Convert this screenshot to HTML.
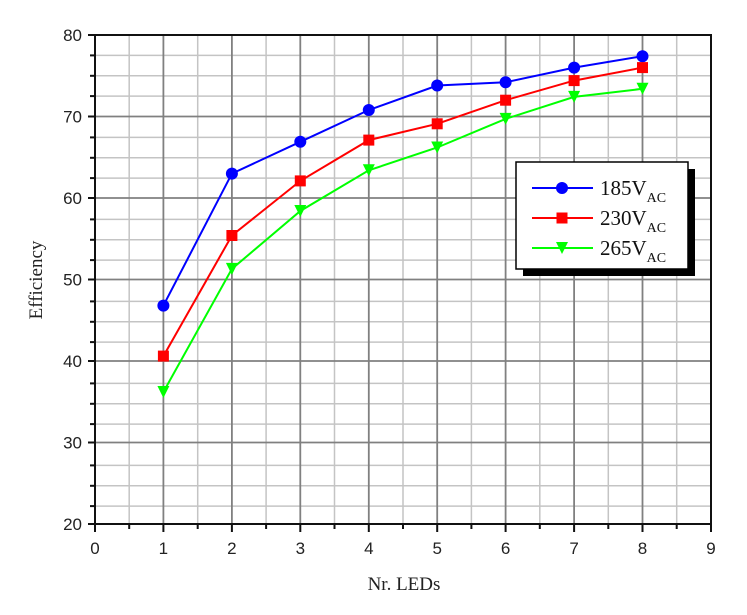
<!DOCTYPE html>
<html><head><meta charset="utf-8"><style>body{margin:0;background:#fff}svg{display:block}</style></head><body>
<svg width="747" height="615" xmlns="http://www.w3.org/2000/svg" font-family="Liberation Serif, serif">
<rect width="747" height="615" fill="#fff"/>
<g stroke="#c4c4c4" stroke-width="1.5">
<line x1="129.2" y1="35" x2="129.2" y2="524"/><line x1="197.7" y1="35" x2="197.7" y2="524"/><line x1="266.1" y1="35" x2="266.1" y2="524"/><line x1="334.5" y1="35" x2="334.5" y2="524"/><line x1="403" y1="35" x2="403" y2="524"/><line x1="471.4" y1="35" x2="471.4" y2="524"/><line x1="539.8" y1="35" x2="539.8" y2="524"/><line x1="608.3" y1="35" x2="608.3" y2="524"/><line x1="676.7" y1="35" x2="676.7" y2="524"/>
<line x1="95" y1="55.4" x2="711" y2="55.4"/><line x1="95" y1="75.8" x2="711" y2="75.8"/><line x1="95" y1="96.1" x2="711" y2="96.1"/>
<line x1="95" y1="137.4" x2="711" y2="137.4"/><line x1="95" y1="157.8" x2="711" y2="157.8"/><line x1="95" y1="178.1" x2="711" y2="178.1"/>
<line x1="95" y1="219.4" x2="711" y2="219.4"/><line x1="95" y1="239.8" x2="711" y2="239.8"/><line x1="95" y1="260.1" x2="711" y2="260.1"/>
<line x1="95" y1="301.4" x2="711" y2="301.4"/><line x1="95" y1="321.8" x2="711" y2="321.8"/><line x1="95" y1="342.1" x2="711" y2="342.1"/>
<line x1="95" y1="383.4" x2="711" y2="383.4"/><line x1="95" y1="403.8" x2="711" y2="403.8"/><line x1="95" y1="424.1" x2="711" y2="424.1"/>
<line x1="95" y1="465.4" x2="711" y2="465.4"/><line x1="95" y1="485.8" x2="711" y2="485.8"/><line x1="95" y1="506.1" x2="711" y2="506.1"/>
</g>
<g stroke="#808080" stroke-width="1.8">
<line x1="163.4" y1="35" x2="163.4" y2="524"/><line x1="231.9" y1="35" x2="231.9" y2="524"/><line x1="300.3" y1="35" x2="300.3" y2="524"/><line x1="368.8" y1="35" x2="368.8" y2="524"/><line x1="437.2" y1="35" x2="437.2" y2="524"/><line x1="505.6" y1="35" x2="505.6" y2="524"/><line x1="574.1" y1="35" x2="574.1" y2="524"/><line x1="642.5" y1="35" x2="642.5" y2="524"/>
<line x1="95" y1="116.5" x2="711" y2="116.5"/><line x1="95" y1="198" x2="711" y2="198"/><line x1="95" y1="279.5" x2="711" y2="279.5"/><line x1="95" y1="361" x2="711" y2="361"/><line x1="95" y1="442.5" x2="711" y2="442.5"/>
</g>
<rect x="95" y="35" width="616" height="489" fill="none" stroke="#111" stroke-width="2"/>
<g stroke="#111" stroke-width="2">
<line x1="88" y1="35" x2="95" y2="35"/><line x1="88" y1="116.5" x2="95" y2="116.5"/><line x1="88" y1="198" x2="95" y2="198"/><line x1="88" y1="279.5" x2="95" y2="279.5"/><line x1="88" y1="361" x2="95" y2="361"/><line x1="88" y1="442.5" x2="95" y2="442.5"/><line x1="88" y1="524" x2="95" y2="524"/>
<line x1="90" y1="55.4" x2="95" y2="55.4"/><line x1="90" y1="75.8" x2="95" y2="75.8"/><line x1="90" y1="96.1" x2="95" y2="96.1"/><line x1="90" y1="137.4" x2="95" y2="137.4"/><line x1="90" y1="157.8" x2="95" y2="157.8"/><line x1="90" y1="178.1" x2="95" y2="178.1"/><line x1="90" y1="219.4" x2="95" y2="219.4"/><line x1="90" y1="239.8" x2="95" y2="239.8"/><line x1="90" y1="260.1" x2="95" y2="260.1"/><line x1="90" y1="301.4" x2="95" y2="301.4"/><line x1="90" y1="321.8" x2="95" y2="321.8"/><line x1="90" y1="342.1" x2="95" y2="342.1"/><line x1="90" y1="383.4" x2="95" y2="383.4"/><line x1="90" y1="403.8" x2="95" y2="403.8"/><line x1="90" y1="424.1" x2="95" y2="424.1"/><line x1="90" y1="465.4" x2="95" y2="465.4"/><line x1="90" y1="485.8" x2="95" y2="485.8"/><line x1="90" y1="506.1" x2="95" y2="506.1"/>
<line x1="95" y1="524" x2="95" y2="532"/><line x1="163.4" y1="524" x2="163.4" y2="532"/><line x1="231.9" y1="524" x2="231.9" y2="532"/><line x1="300.3" y1="524" x2="300.3" y2="532"/><line x1="368.8" y1="524" x2="368.8" y2="532"/><line x1="437.2" y1="524" x2="437.2" y2="532"/><line x1="505.6" y1="524" x2="505.6" y2="532"/><line x1="574.1" y1="524" x2="574.1" y2="532"/><line x1="642.5" y1="524" x2="642.5" y2="532"/><line x1="711" y1="524" x2="711" y2="532"/>
<line x1="129.2" y1="524" x2="129.2" y2="529"/><line x1="197.7" y1="524" x2="197.7" y2="529"/><line x1="266.1" y1="524" x2="266.1" y2="529"/><line x1="334.5" y1="524" x2="334.5" y2="529"/><line x1="403" y1="524" x2="403" y2="529"/><line x1="471.4" y1="524" x2="471.4" y2="529"/><line x1="539.8" y1="524" x2="539.8" y2="529"/><line x1="608.3" y1="524" x2="608.3" y2="529"/><line x1="676.7" y1="524" x2="676.7" y2="529"/>
</g>
<g font-size="17" fill="#222" text-anchor="end" font-family="Liberation Sans, sans-serif">
<text x="82" y="41">80</text><text x="82" y="122.5">70</text><text x="82" y="204">60</text><text x="82" y="285.5">50</text><text x="82" y="367">40</text><text x="82" y="448.5">30</text><text x="82" y="530">20</text>
</g>
<g font-size="17" fill="#222" text-anchor="middle" font-family="Liberation Sans, sans-serif">
<text x="95" y="554">0</text><text x="163.4" y="554">1</text><text x="231.9" y="554">2</text><text x="300.3" y="554">3</text><text x="368.8" y="554">4</text><text x="437.2" y="554">5</text><text x="505.6" y="554">6</text><text x="574.1" y="554">7</text><text x="642.5" y="554">8</text><text x="711" y="554">9</text>
</g>
<g font-size="19" fill="#222" text-anchor="middle">
<text x="404" y="590">Nr. LEDs</text>
<text transform="translate(42,280) rotate(-90)">Efficiency</text>
</g>
<polyline fill="none" stroke="#00f" stroke-width="2" points="163.4,305.6 231.9,173.6 300.3,141.8 368.8,110 437.2,85.5 505.6,82.3 574.1,67.6 642.5,56.2"/>
<polyline fill="none" stroke="#f00" stroke-width="2" points="163.4,356.1 231.9,235.5 300.3,180.9 368.8,140.1 437.2,123.8 505.6,100.2 574.1,80.6 642.5,67.6"/>
<polyline fill="none" stroke="#0f0" stroke-width="2" points="163.4,392 231.9,268.9 300.3,211 368.8,170.3 437.2,147.5 505.6,118.9 574.1,96.9 642.5,88.8"/>
<g fill="#00f"><circle cx="163.4" cy="305.6" r="6"/><circle cx="231.9" cy="173.6" r="6"/><circle cx="300.3" cy="141.8" r="6"/><circle cx="368.8" cy="110" r="6"/><circle cx="437.2" cy="85.5" r="6"/><circle cx="505.6" cy="82.3" r="6"/><circle cx="574.1" cy="67.6" r="6"/><circle cx="642.5" cy="56.2" r="6"/></g>
<g fill="#f00"><rect x="157.9" y="350.6" width="11" height="11"/><rect x="226.4" y="230" width="11" height="11"/><rect x="294.8" y="175.4" width="11" height="11"/><rect x="363.3" y="134.6" width="11" height="11"/><rect x="431.7" y="118.3" width="11" height="11"/><rect x="500.1" y="94.7" width="11" height="11"/><rect x="568.6" y="75.1" width="11" height="11"/><rect x="637" y="62.1" width="11" height="11"/></g>
<g fill="#0f0">
<polygon points="157.4,386 169.4,386 163.4,398"/><polygon points="225.9,262.9 237.9,262.9 231.9,274.9"/><polygon points="294.3,205 306.3,205 300.3,217"/><polygon points="362.8,164.3 374.8,164.3 368.8,176.3"/><polygon points="431.2,141.5 443.2,141.5 437.2,153.5"/><polygon points="499.6,112.9 511.6,112.9 505.6,124.9"/><polygon points="568.1,90.9 580.1,90.9 574.1,102.9"/><polygon points="636.5,82.8 648.5,82.8 642.5,94.8"/></g>
<rect x="523" y="169" width="172" height="107" fill="#000"/>
<rect x="516" y="162" width="172" height="107" fill="#fff" stroke="#000" stroke-width="1.5"/>
<line x1="532" y1="188" x2="593" y2="188" stroke="#00f" stroke-width="2"/><circle cx="562" cy="188" r="6" fill="#00f"/>
<line x1="532" y1="218" x2="593" y2="218" stroke="#f00" stroke-width="2"/><rect x="556.5" y="212.5" width="11" height="11" fill="#f00"/>
<line x1="532" y1="248" x2="593" y2="248" stroke="#0f0" stroke-width="2"/><polygon points="556,242 568,242 562,254" fill="#0f0"/>
<g font-size="21" fill="#111">
<text x="600" y="195">185V<tspan font-size="14" dy="7">AC</tspan></text>
<text x="600" y="225">230V<tspan font-size="14" dy="7">AC</tspan></text>
<text x="600" y="255">265V<tspan font-size="14" dy="7">AC</tspan></text>
</g>
</svg>
</body></html>
